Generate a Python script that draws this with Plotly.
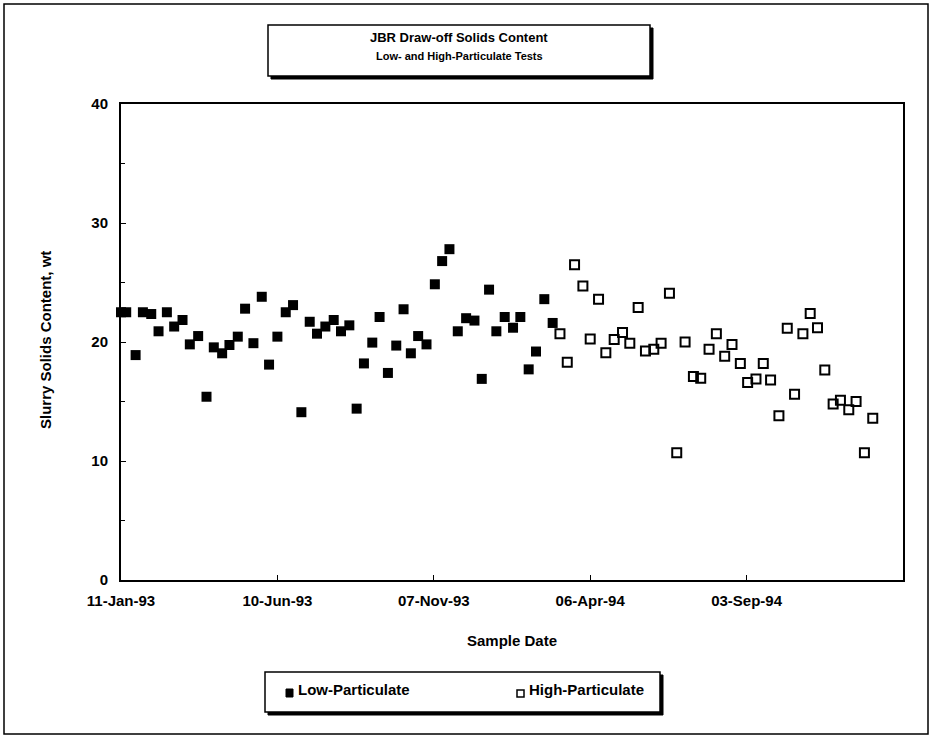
import plotly.graph_objects as go

# ---- data ----
low_dates = [
    "1993-01-11", "1993-01-16", "1993-01-25", "1993-02-01", "1993-02-09", "1993-02-16",
    "1993-02-24", "1993-03-03", "1993-03-11", "1993-03-18", "1993-03-26", "1993-04-03",
    "1993-04-10", "1993-04-18", "1993-04-25", "1993-05-03", "1993-05-10", "1993-05-18",
    "1993-05-26", "1993-06-02", "1993-06-10", "1993-06-18", "1993-06-25", "1993-07-03",
    "1993-07-11", "1993-07-18", "1993-07-26", "1993-08-03", "1993-08-10", "1993-08-18",
    "1993-08-25", "1993-09-01", "1993-09-09", "1993-09-16", "1993-09-24", "1993-10-02",
    "1993-10-09", "1993-10-16", "1993-10-23", "1993-10-31", "1993-11-08", "1993-11-15",
    "1993-11-22", "1993-11-30", "1993-12-08", "1993-12-16", "1993-12-23", "1993-12-30",
    "1994-01-06", "1994-01-14", "1994-01-22", "1994-01-29", "1994-02-06", "1994-02-13",
    "1994-02-21", "1994-03-01",
]
low_values = [
    22.5, 22.5, 18.9, 22.5, 22.35, 20.9, 22.5, 21.3, 21.85, 19.8,
    20.5, 15.4, 19.55, 19.05, 19.75, 20.45, 22.8, 19.9, 23.8, 18.1,
    20.45, 22.5, 23.1, 14.1, 21.7, 20.7, 21.3, 21.85, 20.9, 21.4,
    14.4, 18.2, 19.95, 22.1, 17.4, 19.7, 22.75, 19.05, 20.5, 19.8,
    24.85, 26.8, 27.8, 20.9, 22.0, 21.8, 16.9, 24.4, 20.9, 22.1,
    21.2, 22.1, 17.7, 19.2, 23.6, 21.6,
]
high_dates = [
    "1994-03-08", "1994-03-15", "1994-03-22", "1994-03-30", "1994-04-06", "1994-04-14",
    "1994-04-21", "1994-04-29", "1994-05-07", "1994-05-14", "1994-05-22", "1994-05-29",
    "1994-06-06", "1994-06-13", "1994-06-21", "1994-06-28", "1994-07-06", "1994-07-14",
    "1994-07-21", "1994-07-29", "1994-08-05", "1994-08-13", "1994-08-20", "1994-08-28",
    "1994-09-04", "1994-09-12", "1994-09-19", "1994-09-26", "1994-10-04", "1994-10-12",
    "1994-10-19", "1994-10-27", "1994-11-03", "1994-11-10", "1994-11-17", "1994-11-25",
    "1994-12-02", "1994-12-10", "1994-12-17", "1994-12-25", "1995-01-02",
]
high_values = [
    20.7, 18.3, 26.5, 24.7, 20.25, 23.6, 19.1, 20.2, 20.8, 19.9,
    22.9, 19.25, 19.4, 19.9, 24.1, 10.7, 20.0, 17.1, 16.95, 19.4,
    20.7, 18.8, 19.8, 18.2, 16.6, 16.9, 18.2, 16.8, 13.8, 21.15,
    15.6, 20.7, 22.4, 21.2, 17.65, 14.8, 15.1, 14.3, 15.0, 10.7,
    13.6,
]
x_tick_vals = ["1993-01-11", "1993-06-10", "1993-11-07", "1994-04-06", "1994-09-03", "1995-01-31"]
x_tick_text = ["11-Jan-93", "10-Jun-93", "07-Nov-93", "06-Apr-94", "03-Sep-94", ""]
x_range = ["1993-01-11", "1995-01-31"]
y_tick_vals = [0, 10, 20, 30, 40]
series_names = ["Low-Particulate", "High-Particulate"]

FONT = "Liberation Sans, Arial, sans-serif"

fig = go.Figure()
fig.add_trace(go.Scatter(
    x=low_dates, y=low_values, mode="markers", name=series_names[0],
    marker=dict(symbol="square", size=10, color="black"),
    cliponaxis=False, showlegend=False,
))
fig.add_trace(go.Scatter(
    x=high_dates, y=high_values, mode="markers", name=series_names[1],
    marker=dict(symbol="square-open", size=9, color="black", line=dict(width=2, color="black")),
    cliponaxis=False, showlegend=False,
))

L, R, T, B = 121, 28, 104, 156
W, H = 931, 736
pw, ph = W - L - R, H - T - B

def px(xp):
    return (xp - L) / pw

def py(yp):
    return (H - B - yp) / ph

def prect(x0, y0, x1, y1, **kw):
    return dict(type="rect", xref="paper", yref="paper",
                x0=px(x0), x1=px(x1), y0=py(y1), y1=py(y0), **kw)

shapes = [
    # outer frame
    prect(4, 4, 928, 734, line=dict(color="black", width=1.5)),
    # title box shadow + box
    prect(271, 28, 653, 79, line=dict(color="black", width=1), fillcolor="black"),
    prect(268, 25, 650, 76, line=dict(color="black", width=1.5), fillcolor="white"),
    # legend box shadow + box
    prect(268, 675, 663, 715, line=dict(color="black", width=1), fillcolor="black"),
    prect(265, 672, 660, 712, line=dict(color="black", width=1.5), fillcolor="white"),
    # legend symbols
    prect(286, 689, 293, 697, line=dict(color="black", width=1), fillcolor="black"),
    prect(517, 690, 524, 697, line=dict(color="black", width=1.5), fillcolor="white"),
]

annotations = [
    dict(text="JBR Draw-off Solids Content", xref="paper", yref="paper", x=px(459), y=py(37),
         showarrow=False, xanchor="center", yanchor="middle",
         font=dict(family=FONT, size=13, color="black", weight="bold")),
    dict(text="Low- and High-Particulate Tests", xref="paper", yref="paper", x=px(459), y=py(56),
         showarrow=False, xanchor="center", yanchor="middle",
         font=dict(family=FONT, size=11, color="black", weight="bold")),
    dict(text="Sample Date", xref="paper", yref="paper", x=px(512), y=py(640),
         showarrow=False, xanchor="center", yanchor="middle",
         font=dict(family=FONT, size=15, color="black", weight="bold")),
    dict(text="Slurry Solids Content, wt", xref="paper", yref="paper", x=px(45), y=py(340),
         showarrow=False, xanchor="center", yanchor="middle", textangle=-90,
         font=dict(family=FONT, size=15, color="black", weight="bold")),
    dict(text=series_names[0], xref="paper", yref="paper", x=px(296), y=py(689),
         showarrow=False, xanchor="left", yanchor="middle",
         font=dict(family=FONT, size=15, color="black", weight="bold")),
    dict(text=series_names[1], xref="paper", yref="paper", x=px(527), y=py(689),
         showarrow=False, xanchor="left", yanchor="middle",
         font=dict(family=FONT, size=15, color="black", weight="bold")),
]

fig.update_layout(
    width=W, height=H,
    margin=dict(l=L, r=R, t=T, b=B, pad=0),
    paper_bgcolor="white", plot_bgcolor="white",
    font=dict(family=FONT, color="black"),
    shapes=shapes,
    annotations=annotations,
    showlegend=False,
    xaxis=dict(
        type="date", range=x_range, tickvals=x_tick_vals, ticktext=x_tick_text,
        showgrid=False, zeroline=False, showline=True, linecolor="black", linewidth=2,
        mirror=True, ticks="inside", ticklen=5, tickcolor="black", tickwidth=1,
        ticklabelstandoff=6,
        tickfont=dict(family=FONT, size=15, color="black", weight="bold"),
    ),
    yaxis=dict(
        range=[0, 40], tickvals=y_tick_vals,
        showgrid=False, zeroline=False, showline=True, linecolor="black", linewidth=2,
        mirror=True, ticks="inside", ticklen=5, tickcolor="black", tickwidth=1,
        ticklabelstandoff=8,
        minor=dict(dtick=5, ticks="inside", ticklen=4, tickcolor="black", showgrid=False),
        tickfont=dict(family=FONT, size=15, color="black", weight="bold"),
    ),
)

fig.write_html("out.html")
